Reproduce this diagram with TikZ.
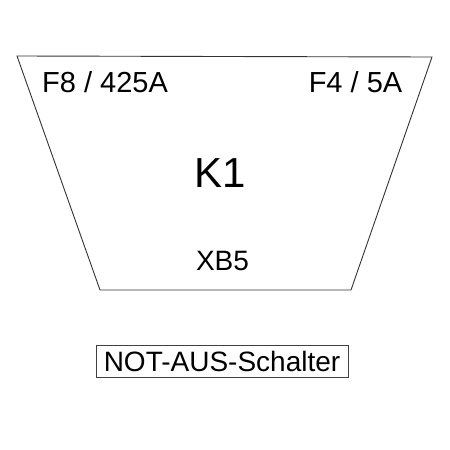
\documentclass[tikz,border=0pt]{standalone}
\usepackage{fontspec}
\setmainfont{Liberation Sans}
\begin{document}
\begin{tikzpicture}[x=1pt,y=-1pt,
  lbl/.style={font=\fontsize{28}{32}\selectfont, text=black, inner sep=0pt, anchor=base},
  toplbl/.style={font=\fontsize{29}{33}\selectfont, text=black, inner sep=0pt, anchor=base},
  big/.style={font=\fontsize{42}{48}\selectfont, text=black, inner sep=0pt, anchor=base},
  outline/.style={draw=black!80, line width=0.9pt},
  framebox/.style={draw=black!75, line width=0.9pt, font=\fontsize{28}{32}\selectfont, minimum width=252pt, minimum height=32pt, inner sep=0pt}]
\useasboundingbox (0,0) rectangle (450,450);
\coordinate (tl) at (17,56);
\coordinate (tr) at (432,57);
\coordinate (br) at (351,290);
\coordinate (bl) at (100,290);
\draw[outline] (tl) -- (tr) -- (br) -- (bl) -- cycle;
\node[toplbl] (f8) at (105,92) {F8 / 425A};
\node[toplbl] (f4) at (355.5,92) {F4 / 5A};
\node[big] (k1) at (220,187) {K1};
\node[lbl] (xb5) at (222.5,270) {XB5};
\node[framebox] (nas) at (222,361) {NOT-AUS-Schalter};
\end{tikzpicture}
\end{document}
